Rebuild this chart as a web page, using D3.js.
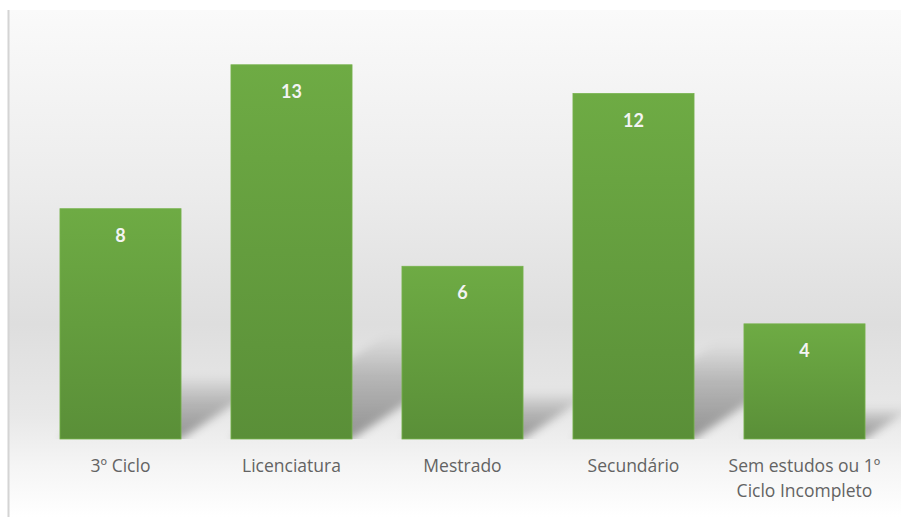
<!DOCTYPE html>
<html>
<head>
<meta charset="utf-8">
<script src="https://cdn.jsdelivr.net/npm/d3@7/dist/d3.min.js"></script>
<style>
  html, body { margin: 0; padding: 0; background: #ffffff; }
  svg { display: block; }
</style>
</head>
<body>
<svg id="chart" width="901" height="517"></svg>
<script>
// ---- data ----
const categories = ["3º Ciclo", "Licenciatura", "Mestrado", "Secundário", "Sem estudos ou 1º Ciclo Incompleto"];
const values = [8, 13, 6, 12, 4];

// ---- layout ----
const W = 901, H = 517;
const baseY = 439;
const svg = d3.select("#chart");
const defs = svg.append("defs");

const x = d3.scaleBand().domain(categories).range([35, 890]).paddingInner(0.292).paddingOuter(0.146);
const y = d3.scaleLinear().domain([0, 14]).range([baseY, 36]);

// background gradient
const bg = defs.append("linearGradient").attr("id", "bg").attr("x1", 0).attr("y1", 0).attr("x2", 0).attr("y2", 1);
[[0, "#fafafa"], [0.35, "#ececec"], [0.62, "#dedede"], [0.8, "#e8e8e8"], [0.9, "#f5f5f5"], [1, "#ffffff"]]
  .forEach(([o, c]) => bg.append("stop").attr("offset", o).attr("stop-color", c));

svg.append("rect").attr("x", 9).attr("y", 10).attr("width", W - 9).attr("height", H - 10).attr("fill", "url(#bg)");
svg.append("line").attr("x1", 8.5).attr("x2", 8.5).attr("y1", 10).attr("y2", H)
  .attr("stroke", "#d4d4d4").attr("stroke-width", 2);

// bar gradient
const bar = defs.append("linearGradient").attr("id", "barg").attr("x1", 0).attr("y1", 0).attr("x2", 0).attr("y2", 1);
bar.append("stop").attr("offset", 0).attr("stop-color", "#6eab44");
bar.append("stop").attr("offset", 1).attr("stop-color", "#5a8f38");

// shadow gradient + blur
const sg = defs.append("linearGradient").attr("id", "shg").attr("x1", 0).attr("y1", 1).attr("x2", 0).attr("y2", 0);
sg.append("stop").attr("offset", 0).attr("stop-color", "#000").attr("stop-opacity", 0.38);
sg.append("stop").attr("offset", 0.6).attr("stop-color", "#000").attr("stop-opacity", 0.2);
sg.append("stop").attr("offset", 1).attr("stop-color", "#000").attr("stop-opacity", 0.0);
defs.append("filter").attr("id", "blur").attr("x", "-20%").attr("y", "-20%").attr("width", "140%").attr("height", "140%")
  .append("feGaussianBlur").attr("stdDeviation", 4);
defs.append("clipPath").attr("id", "clipBase").append("rect").attr("x", 0).attr("y", 0).attr("width", W).attr("height", baseY);

// shadows (perspective, cast up-right)
const data = categories.map((c, i) => ({ c, v: values[i] }));
svg.append("g").attr("clip-path", "url(#clipBase)")
  .selectAll("path").data(data).join("path")
  .attr("d", d => {
    const x0 = x(d.c), x1 = x0 + x.bandwidth();
    const h = baseY - y(d.v);
    const sh = h * 0.28, dx = sh * 1.5;
    return `M${x0},${baseY} L${x1},${baseY} L${x1 + dx},${baseY - sh} L${x0 + dx},${baseY - sh} Z`;
  })
  .attr("fill", "url(#shg)")
  .attr("filter", "url(#blur)");

// bars
svg.append("g").selectAll("rect").data(data).join("rect")
  .attr("x", d => x(d.c))
  .attr("y", d => y(d.v))
  .attr("width", x.bandwidth())
  .attr("height", d => baseY - y(d.v))
  .attr("fill", "url(#barg)")
  .attr("stroke", "#76b24c").attr("stroke-width", 0.8);

// value labels
svg.append("g").selectAll("text").data(data).join("text")
  .attr("x", d => x(d.c) + x.bandwidth() / 2)
  .attr("y", d => y(d.v) + 33)
  .attr("text-anchor", "middle")
  .attr("font-family", "Lato, 'Open Sans', sans-serif")
  .attr("font-weight", "bold")
  .attr("font-size", 18)
  .attr("fill", "#f4f4f4")
  .text(d => d.v);

// category labels with wrapping
const labels = svg.append("g").selectAll("text").data(categories).join("text")
  .attr("x", d => x(d) + x.bandwidth() / 2)
  .attr("y", 472)
  .attr("text-anchor", "middle")
  .attr("font-family", "'Open Sans', Lato, sans-serif")
  .attr("font-size", 17.5)
  .attr("fill", "#636363");

labels.each(function (d) {
  const t = d3.select(this);
  const cx = +t.attr("x");
  const words = d.split(" ");
  const maxW = x.step() + 2;
  let line = [];
  let tspan = t.append("tspan").attr("x", cx).attr("dy", 0);
  words.forEach(w => {
    line.push(w);
    tspan.text(line.join(" "));
    if (tspan.node().getComputedTextLength() > maxW && line.length > 1) {
      line.pop();
      tspan.text(line.join(" "));
      line = [w];
      tspan = t.append("tspan").attr("x", cx).attr("dy", 25).text(w);
    }
  });
});
</script>
</body>
</html>
